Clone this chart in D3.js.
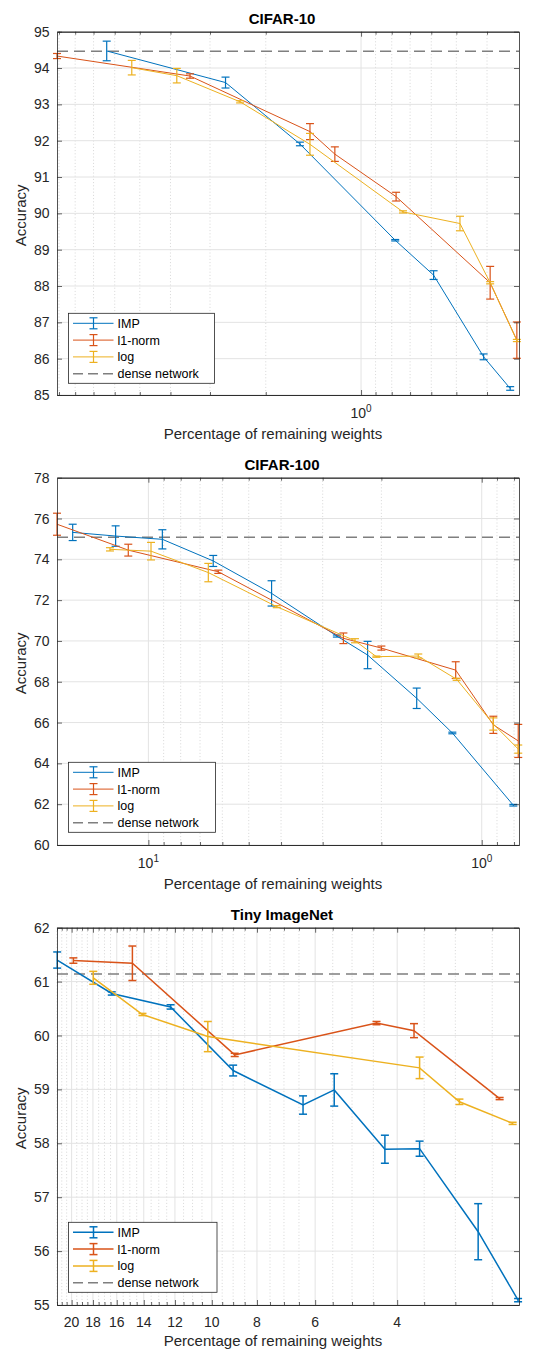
<!DOCTYPE html>
<html>
<head>
<meta charset="utf-8">
<script src="https://cdn.jsdelivr.net/npm/d3@7"></script>
<style>
  body { margin: 0; background: #fff; }
  svg text { font-family: "Liberation Sans", Arial, Helvetica, sans-serif; }
</style>
</head>
<body>
<svg id="chart" width="540" height="1351"></svg>
<script>
// ---- CIFAR-10 ----
var c10ImpX = [6.36, 2.68, 1.56, 0.78, 0.59, 0.41, 0.338];
var c10ImpY = [94.47, 93.60, 91.91, 89.26, 88.30, 86.05, 85.18];
var c10ImpE = [0.27, 0.15, 0.05, 0.02, 0.12, 0.08, 0.05];
var c10L1X = [9.13, 3.47, 1.45, 1.21, 0.775, 0.391, 0.322];
var c10L1Y = [94.33, 93.78, 92.25, 91.63, 90.46, 88.09, 86.51];
var c10L1E = [0.07, 0.06, 0.22, 0.2, 0.12, 0.45, 0.5];
var c10LogX = [5.30, 3.82, 2.41, 1.45, 0.737, 0.487, 0.391, 0.322];
var c10LogY = [94.01, 93.79, 93.07, 91.9, 90.04, 89.72, 88.09, 86.5];
var c10LogE = [0.2, 0.2, 0.03, 0.3, 0.03, 0.2, 0.03, 0.03];
var c10Dense = 94.46;

// ---- CIFAR-100 ----
var c100ImpX = [16.87, 12.54, 9.08, 6.39, 4.27, 2.72, 2.20, 1.567, 1.225, 0.804];
var c100ImpY = [75.32, 75.14, 74.98, 73.92, 72.33, 70.24, 69.31, 67.19, 65.49, 61.95];
var c100ImpE = [0.4, 0.5, 0.47, 0.27, 0.62, 0.05, 0.67, 0.5, 0.04, 0.04];
var c100L1X = [18.8, 11.49, 6.17, 2.60, 2.00, 1.197, 0.923, 0.777];
var c100L1Y = [75.72, 74.45, 73.39, 70.13, 69.65, 68.57, 65.89, 65.1];
var c100L1E = [0.54, 0.29, 0.08, 0.26, 0.1, 0.41, 0.42, 0.81];
var c100LogX = [13.04, 9.82, 6.61, 4.12, 2.40, 2.07, 1.55, 1.189, 0.923, 0.777];
var c100LogY = [74.49, 74.4, 73.35, 71.68, 70.01, 69.23, 69.26, 68.12, 65.93, 64.7];
var c100LogE = [0.08, 0.43, 0.45, 0.05, 0.1, 0.03, 0.1, 0.05, 0.3, 0.2];
var c100Dense = 75.08;

// ---- Tiny ImageNet ----
var tinyImpX = [21.48, 16.4, 12.26, 9.0, 6.37, 5.46, 4.25, 3.58, 2.68, 2.20];
var tinyImpY = [61.40, 60.78, 60.53, 59.35, 58.71, 58.99, 57.89, 57.90, 56.36, 55.09];
var tinyImpE = [0.15, 0.03, 0.04, 0.1, 0.17, 0.3, 0.26, 0.14, 0.52, 0.03];
var tinyL1X = [19.83, 14.81, 8.93, 4.43, 3.68, 2.41];
var tinyL1Y = [61.39, 61.34, 59.64, 60.23, 60.09, 58.83];
var tinyL1E = [0.05, 0.32, 0.03, 0.03, 0.13, 0.02];
var tinyLogX = [17.97, 14.09, 10.2, 3.58, 2.94, 2.26];
var tinyLogY = [61.07, 60.39, 59.98, 59.40, 58.77, 58.37];
var tinyLogE = [0.12, 0.02, 0.28, 0.2, 0.05, 0.02];
var tinyDense = 61.14;

// tick labels
var c10XMajor = [1], c10XMinor = [9, 8, 7, 6, 5, 4, 3, 2, 0.9, 0.8, 0.7, 0.6, 0.5, 0.4];
var c100XMajor = [10, 1], c100XMinor = [9, 8, 7, 6, 5, 4, 3, 2, 0.9, 0.8];
var tinyXMajor = [20, 18, 16, 14, 12, 10, 8, 6, 4];
var tinyXMinor = d3.range(2.5, 21.6, 0.5).filter(function(v) { return tinyXMajor.indexOf(v) < 0; });

var names = ["IMP", "l1-norm", "log", "dense network"];
var colors = ["#0072BD", "#D95319", "#EDB120"];

var svg = d3.select("#chart");

function drawPanel(p) {
    var g = svg.append("g");
    var x = d3.scaleLog().domain(p.xDomain).range([p.left, p.right]);
    var y = d3.scaleLinear().domain(p.yDomain).range([p.bottom, p.top]);
    var axisColor = "#262626";

    g.append("rect")
        .attr("x", p.left).attr("y", p.top)
        .attr("width", p.right - p.left).attr("height", p.bottom - p.top)
        .attr("fill", "#fff");

    // minor grid (dotted)
    g.selectAll(".minor").data(p.xMinor).enter().append("line")
        .attr("x1", function(d) { return x(d); }).attr("x2", function(d) { return x(d); })
        .attr("y1", p.top).attr("y2", p.bottom)
        .attr("stroke", "#cdcdcd").attr("stroke-width", 0.8)
        .attr("stroke-dasharray", "1,2.2");

    // major grid
    g.selectAll(".gx").data(p.xMajor).enter().append("line")
        .attr("x1", function(d) { return x(d); }).attr("x2", function(d) { return x(d); })
        .attr("y1", p.top).attr("y2", p.bottom)
        .attr("stroke", "#e3e3e3").attr("stroke-width", 1);
    g.selectAll(".gy").data(p.yTicks).enter().append("line")
        .attr("x1", p.left).attr("x2", p.right)
        .attr("y1", function(d) { return y(d); }).attr("y2", function(d) { return y(d); })
        .attr("stroke", "#e3e3e3").attr("stroke-width", 1);

    // dense network line
    g.append("line")
        .attr("x1", p.left).attr("x2", p.right)
        .attr("y1", y(p.dense)).attr("y2", y(p.dense))
        .attr("stroke", "#7f7f7f").attr("stroke-width", 1.5)
        .attr("stroke-dasharray", "11,6");

    var line = d3.line()
        .x(function(d) { return x(d[0]); })
        .y(function(d) { return y(d[1]); });

    p.series.forEach(function(s, i) {
        var rows = d3.zip(s[0], s[1], s[2]);
        g.append("path")
            .datum(rows)
            .attr("fill", "none")
            .attr("stroke", colors[i])
            .attr("stroke-width", p.lw)
            .attr("d", line);

        var eb = g.append("g").attr("stroke", colors[i]).attr("stroke-width", p.ew);
        rows.forEach(function(d) {
            var cx = x(d[0]), y1 = y(d[1] - d[2]), y2 = y(d[1] + d[2]);
            eb.append("line").attr("x1", cx).attr("x2", cx).attr("y1", y1).attr("y2", y2);
            eb.append("line").attr("x1", cx - 4).attr("x2", cx + 4).attr("y1", y1).attr("y2", y1);
            eb.append("line").attr("x1", cx - 4).attr("x2", cx + 4).attr("y1", y2).attr("y2", y2);
        });
    });

    // axes (ticks inward, box on)
    function style(sel) {
        sel.selectAll("path").attr("stroke", axisColor).attr("stroke-width", 0.8);
        sel.selectAll("line").attr("stroke", axisColor).attr("stroke-width", 0.7);
        sel.selectAll("text").remove();
    }
    g.append("g").attr("transform", "translate(0," + p.bottom + ")")
        .call(d3.axisBottom(x).tickValues(p.xMajor).tickSizeInner(-5).tickSizeOuter(0)).call(style);
    g.append("g").attr("transform", "translate(0," + p.bottom + ")")
        .call(d3.axisBottom(x).tickValues(p.xMinor).tickSizeInner(-3).tickSizeOuter(0)).call(style);
    g.append("g").attr("transform", "translate(0," + p.top + ")")
        .call(d3.axisTop(x).tickValues(p.xMajor).tickSizeInner(-5).tickSizeOuter(0)).call(style);
    g.append("g").attr("transform", "translate(0," + p.top + ")")
        .call(d3.axisTop(x).tickValues(p.xMinor).tickSizeInner(-3).tickSizeOuter(0)).call(style);
    g.append("g").attr("transform", "translate(" + p.left + ",0)")
        .call(d3.axisLeft(y).tickValues(p.yTicks).tickSizeInner(-5).tickSizeOuter(0)).call(style);
    g.append("g").attr("transform", "translate(" + p.right + ",0)")
        .call(d3.axisRight(y).tickValues(p.yTicks).tickSizeInner(-5).tickSizeOuter(0)).call(style);

    // y tick labels
    g.selectAll(".yl").data(p.yTicks).enter().append("text")
        .attr("x", p.left - 7.5).attr("y", function(d) { return y(d) + 5; })
        .attr("text-anchor", "end").attr("font-size", 14).attr("fill", axisColor)
        .text(function(d) { return d; });

    // x tick labels
    p.xMajor.forEach(function(v) {
        var t = g.append("text")
            .attr("x", x(v)).attr("y", p.xTickY)
            .attr("text-anchor", "middle").attr("font-size", 14).attr("fill", axisColor);
        if (p.pow) {
            t.append("tspan").text("10");
            t.append("tspan").attr("font-size", 10).attr("dy", -6).text(Math.round(Math.log10(v)));
        } else {
            t.text(v);
        }
    });

    // title and labels
    g.append("text").attr("x", 282).attr("y", p.top - 7.5)
        .attr("text-anchor", "middle").attr("font-size", 15).attr("font-weight", "bold")
        .attr("fill", "#000").text(p.title);
    g.append("text").attr("x", 273).attr("y", p.xLabelY)
        .attr("text-anchor", "middle").attr("font-size", 15).attr("fill", axisColor)
        .text("Percentage of remaining weights");
    g.append("text")
        .attr("transform", "translate(26," + ((p.top + p.bottom) / 2 + 2) + ") rotate(-90)")
        .attr("text-anchor", "middle").attr("font-size", 15).attr("fill", axisColor)
        .text("Accuracy");

    // legend
    var lg = g.append("g").attr("transform", "translate(" + 68.5 + "," + p.legTop + ")");
    lg.append("rect").attr("width", p.legW).attr("height", 70)
        .attr("fill", "#fff").attr("stroke", axisColor).attr("stroke-width", 0.8);
    names.forEach(function(n, i) {
        var ry = 10 + i * 16.8;
        if (i < 3) {
            lg.append("line").attr("x1", 4.5).attr("x2", 45).attr("y1", ry).attr("y2", ry)
                .attr("stroke", colors[i]).attr("stroke-width", p.lw);
            var eb = lg.append("g").attr("stroke", colors[i]).attr("stroke-width", p.ew);
            eb.append("line").attr("x1", 25).attr("x2", 25).attr("y1", ry - 5.5).attr("y2", ry + 5.5);
            eb.append("line").attr("x1", 21).attr("x2", 29).attr("y1", ry - 5.5).attr("y2", ry - 5.5);
            eb.append("line").attr("x1", 21).attr("x2", 29).attr("y1", ry + 5.5).attr("y2", ry + 5.5);
        } else {
            lg.append("line").attr("x1", 4.5).attr("x2", 45).attr("y1", ry).attr("y2", ry)
                .attr("stroke", "#7f7f7f").attr("stroke-width", 1.5).attr("stroke-dasharray", "10,5");
        }
        lg.append("text").attr("x", 49).attr("y", ry + 4.5)
            .attr("font-size", 12.5).attr("fill", "#000").text(n);
    });
}

drawPanel({
    title: "CIFAR-10", left: 57, right: 519, top: 31.7, bottom: 395,
    xDomain: [9.13, 0.317], yDomain: [85, 95], yTicks: d3.range(85, 96, 1),
    xMajor: c10XMajor, xMinor: c10XMinor, pow: true,
    xTickY: 418, xLabelY: 439, legTop: 313.3, legW: 146, lw: 1, ew: 1.2,
    dense: c10Dense,
    series: [[c10ImpX, c10ImpY, c10ImpE], [c10L1X, c10L1Y, c10L1E], [c10LogX, c10LogY, c10LogE]]
});

drawPanel({
    title: "CIFAR-100", left: 57, right: 519, top: 477.7, bottom: 845,
    xDomain: [18.8, 0.773], yDomain: [60, 78], yTicks: d3.range(60, 79, 2),
    xMajor: c100XMajor, xMinor: c100XMinor, pow: true,
    xTickY: 868, xLabelY: 889, legTop: 762.3, legW: 147, lw: 1, ew: 1.2,
    dense: c100Dense,
    series: [[c100ImpX, c100ImpY, c100ImpE], [c100L1X, c100L1Y, c100L1E], [c100LogX, c100LogY, c100LogE]]
});

drawPanel({
    title: "Tiny ImageNet", left: 57, right: 519, top: 927.7, bottom: 1305,
    xDomain: [21.5, 2.19], yDomain: [55, 62], yTicks: d3.range(55, 63, 1),
    xMajor: tinyXMajor, xMinor: tinyXMinor, pow: false,
    xTickY: 1327, xLabelY: 1345.5, legTop: 1222.3, legW: 148.5, lw: 1.5, ew: 1.5,
    dense: tinyDense,
    series: [[tinyImpX, tinyImpY, tinyImpE], [tinyL1X, tinyL1Y, tinyL1E], [tinyLogX, tinyLogY, tinyLogE]]
});
</script>
</body>
</html>
